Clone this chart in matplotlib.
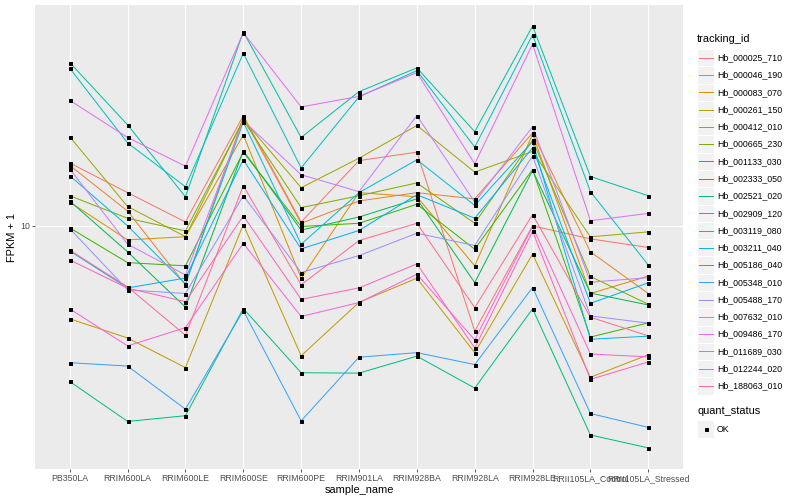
import numpy as np
import matplotlib
matplotlib.use("Agg")
import matplotlib.pyplot as plt
from matplotlib.patches import Rectangle

samples = ["PB350LA", "RRIM600LA", "RRIM600LE", "RRIM600SE", "RRIM600PE",
           "RRIM901LA", "RRIM928BA", "RRIM928LA", "RRIM928LE",
           "RRII105LA_Control", "RRII105LA_Stressed"]

tracking_ids = ["Hb_000025_710", "Hb_000046_190", "Hb_000083_070", "Hb_000261_150",
                "Hb_000412_010", "Hb_000665_230", "Hb_001133_030", "Hb_002333_050",
                "Hb_002521_020", "Hb_002909_120", "Hb_003119_080", "Hb_003211_040",
                "Hb_005186_040", "Hb_005348_010", "Hb_005488_170", "Hb_007632_010",
                "Hb_009486_170", "Hb_011689_030", "Hb_012244_020", "Hb_188063_010"]

# FPKM + 1, one list per gene, in sample order
hb_000025_710 = [16.2, 12.9, 10.3, 23.3, 10.3, 16.5, 17.6, 4.46, 10.0, 9.05, 8.47]
hb_000046_190 = [15.9, 11.2, 6.36, 23.0, 10.2, 12.1, 12.9, 12.3, 20.4, 8.19, 5.95]
hb_000083_070 = [12.0, 8.98, 9.2, 20.1, 6.69, 12.9, 12.5, 7.36, 20.2, 5.95, 6.80]
hb_000261_150 = [4.90, 4.23, 3.37, 10.1, 3.69, 5.56, 6.69, 3.78, 8.05, 3.13, 3.72]
hb_000412_010 = [19.8, 11.6, 9.21, 22.6, 13.4, 16.8, 21.6, 15.1, 17.7, 9.19, 9.55]
hb_000665_230 = [12.6, 10.6, 9.62, 22.5, 11.5, 12.6, 13.9, 10.2, 19.3, 6.78, 5.48]
hb_001133_030 = [9.85, 7.54, 7.36, 17.6, 9.95, 10.2, 11.8, 8.36, 15.4, 4.26, 4.75]
hb_002333_050 = [12.1, 8.19, 5.36, 17.8, 9.68, 10.7, 12.3, 6.47, 15.3, 5.97, 5.45]
hb_002521_020 = [3.03, 2.23, 2.33, 5.30, 3.24, 3.23, 3.68, 2.88, 5.29, 2.01, 1.82]
hb_002909_120 = [35.0, 21.7, 12.5, 44.3, 19.7, 28.0, 33.6, 20.6, 46.3, 14.6, 12.6]
hb_003119_080 = [33.5, 18.9, 13.5, 37.6, 15.6, 26.9, 32.9, 18.3, 43.3, 13.0, 7.40]
hb_003211_040 = [14.7, 10.0, 6.4, 22.2, 8.68, 12.9, 16.6, 11.7, 19.1, 4.19, 4.29]
hb_005186_040 = [8.25, 6.21, 6.7, 16.6, 8.38, 9.65, 12.7, 10.6, 18.2, 5.52, 6.46]
hb_005348_010 = [3.50, 3.41, 2.45, 5.22, 2.24, 3.65, 3.78, 3.45, 6.23, 2.37, 2.13]
hb_005488_170 = [9.79, 6.12, 5.95, 12.6, 6.99, 7.96, 9.45, 8.60, 17.1, 5.01, 4.74]
hb_007632_010 = [15.5, 8.69, 6.86, 22.4, 14.8, 13.0, 23.3, 12.0, 21.4, 6.49, 6.72]
hb_009486_170 = [26.2, 19.7, 15.8, 44.0, 24.9, 27.0, 32.4, 16.1, 40.3, 10.4, 11.0]
hb_011689_030 = [5.29, 3.98, 4.58, 8.74, 4.99, 5.55, 6.90, 4.17, 9.95, 3.74, 3.66]
hb_012244_020 = [7.70, 6.2, 5.59, 10.8, 5.69, 6.21, 7.47, 3.92, 9.59, 3.08, 3.52]
hb_188063_010 = [8.3, 6.26, 4.32, 13.6, 6.36, 8.93, 10.2, 5.34, 10.9, 4.96, 4.3]

series = [hb_000025_710, hb_000046_190, hb_000083_070, hb_000261_150, hb_000412_010,
          hb_000665_230, hb_001133_030, hb_002333_050, hb_002521_020, hb_002909_120,
          hb_003119_080, hb_003211_040, hb_005186_040, hb_005348_010, hb_005488_170,
          hb_007632_010, hb_009486_170, hb_011689_030, hb_012244_020, hb_188063_010]

# ggplot hue palette, 20 levels
colors = ["#F8766D", "#EA8331", "#D89000", "#C09B00", "#A3A500", "#7CAE00", "#39B600",
          "#00BB4E", "#00BF7D", "#00C1A3", "#00BFC4", "#00BAE0", "#00B0F6", "#35A2FF",
          "#9590FF", "#C77CFF", "#E76BF3", "#FA62DB", "#FF62BC", "#FF6C91"]

plt.rcParams['font.family'] = ['Liberation Sans', 'DejaVu Sans']

W, H, DPI = 800, 500, 72
fig = plt.figure(figsize=(W / DPI, H / DPI), dpi=DPI)
ax = fig.add_axes([35 / W, 1 - 469 / H, (683 - 35) / W, (469 - 5) / H])
ax.set_facecolor("#EBEBEB")

x = np.arange(len(samples))
for vals, col in zip(series, colors):
    ax.plot(x, vals, color=col, lw=1.0, zorder=2)
for vals in series:
    ax.plot(x, vals, ls="none", marker="s", ms=3.0, color="black", zorder=3)

ax.set_yscale("log")
allv = np.log10(np.concatenate([np.array(s) for s in series]))
lo, hi = allv.min(), allv.max()
pad = 0.05 * (hi - lo)
ax.set_ylim(10 ** (lo - pad), 10 ** (hi + pad))
ax.set_xlim(-0.6, len(samples) - 0.4)

ax.set_yticks([10])
ax.set_yticklabels(["10"])
ax.yaxis.set_minor_locator(matplotlib.ticker.NullLocator())
ax.set_xticks(x)
ax.set_xticklabels(samples)

ax.grid(True, which="major", color="white", lw=1.1, zorder=0)
ax.set_axisbelow(True)
for sp in ax.spines.values():
    sp.set_visible(False)
ax.tick_params(axis="both", length=2.75, width=0.8, color="#333333",
               labelcolor="#4D4D4D", labelsize=8.8, pad=2.2)

ax.set_xlabel("sample_name", fontsize=11, labelpad=2)
ax.set_ylabel("FPKM + 1", fontsize=11, labelpad=3)

# legend, drawn in pixel coordinates
lax = fig.add_axes([0, 0, 1, 1], facecolor="none")
lax.set_xlim(0, W)
lax.set_ylim(H, 0)
lax.axis("off")

key = 17.28
lx = 697
lax.text(lx, 39.5, "tracking_id", fontsize=11, va="center", ha="left")
top = 57.7 - key / 2
for i, (tid, col) in enumerate(zip(tracking_ids, colors)):
    y0 = top + i * key
    lax.add_patch(Rectangle((lx, y0), key, key, facecolor="#F2F2F2", edgecolor="white", lw=1))
    lax.plot([lx + 1.7, lx + key - 1.7], [y0 + key / 2] * 2, color=col, lw=1.0)
    lax.text(lx + key + 2.8, y0 + key / 2, tid, fontsize=8.8, va="center", ha="left")

lax.text(lx, 411.5, "quant_status", fontsize=11, va="center", ha="left")
y0 = 429 - key / 2
lax.add_patch(Rectangle((lx, y0), key, key, facecolor="#F2F2F2", edgecolor="white", lw=1))
lax.plot([lx + key / 2], [y0 + key / 2], marker="s", ms=3.0, color="black")
lax.text(lx + key + 2.8, y0 + key / 2, "OK", fontsize=8.8, va="center", ha="left")

fig.savefig("out.png", dpi=DPI)
